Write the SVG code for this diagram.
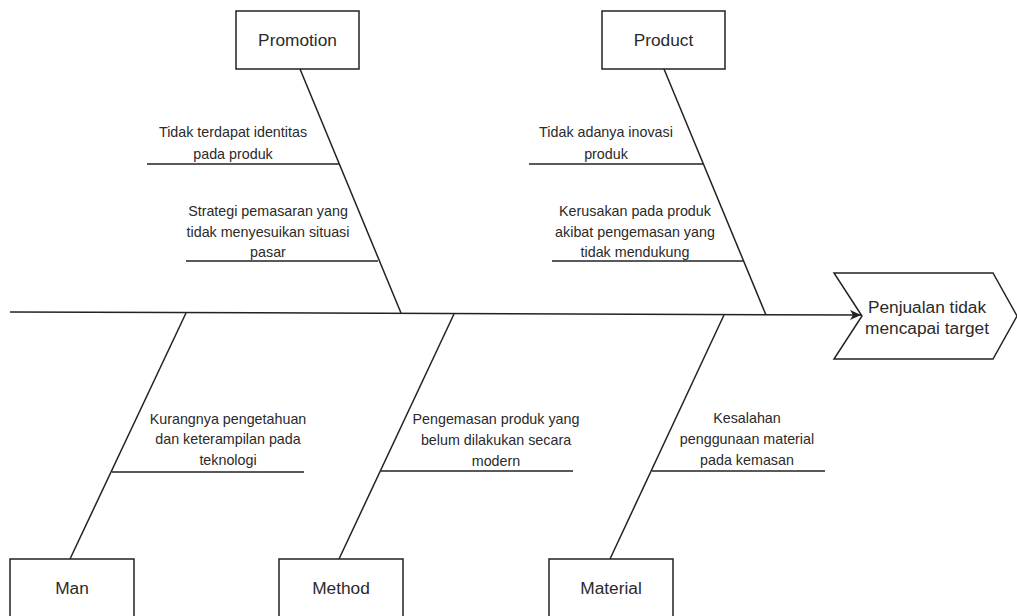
<svg xmlns="http://www.w3.org/2000/svg" width="1017" height="616" viewBox="0 0 1017 616">
<style>
.box{fill:#fff;stroke:#222;stroke-width:1.5}
.ln{fill:none;stroke:#222;stroke-width:1.5}
.t{font-family:"Liberation Sans",Arial,sans-serif;fill:#2a2a2a;text-anchor:middle;dominant-baseline:central}
.big{font-size:17.3px}
.sm{font-size:14.3px}
</style>
<defs>
<marker id="arr" markerUnits="userSpaceOnUse" markerWidth="14" markerHeight="12" refX="11" refY="5" orient="auto">
<path d="M0,0 L11,5 L0,10 L3,5 Z" fill="#222"/>
</marker>
</defs>
<rect width="1017" height="616" fill="#fff"/>
<g id="connectors">
<path class="ln" d="M10,312 L861,315" marker-end="url(#arr)"/>
<path class="ln" d="M300,69 L401,313"/>
<path class="ln" d="M664,69 L766,315"/>
<path class="ln" d="M186,313 L70,559"/>
<path class="ln" d="M454,314 L339,559"/>
<path class="ln" d="M724,315 L610,559"/>
<path class="ln" d="M147,164 L339,164"/>
<path class="ln" d="M186,261 L378,261"/>
<path class="ln" d="M529,164 L703,164"/>
<path class="ln" d="M552,261 L743,261"/>
<path class="ln" d="M112,472 L304,472"/>
<path class="ln" d="M381,471 L573,471"/>
<path class="ln" d="M652,471 L825,471"/>
</g>
<g id="promotion">
<rect class="box" x="236" y="11" width="123" height="58"/>
<text class="t big" x="297.5" y="40">Promotion</text>
</g>
<g id="product">
<rect class="box" x="602" y="11" width="123" height="58"/>
<text class="t big" x="663.5" y="40">Product</text>
</g>
<g id="man">
<rect class="box" x="10" y="559" width="124" height="60"/>
<text class="t big" x="72" y="588">Man</text>
</g>
<g id="method">
<rect class="box" x="279" y="559" width="124" height="60"/>
<text class="t big" x="341" y="588">Method</text>
</g>
<g id="material">
<rect class="box" x="549" y="559" width="124" height="60"/>
<text class="t big" x="611" y="588">Material</text>
</g>
<g id="effect">
<polygon class="box" points="834,273 993,273 1017,316 993,359 834,359 862,316"/>
<text class="t big" x="927" y="307">Penjualan tidak</text>
<text class="t big" x="927" y="328">mencapai target</text>
</g>
<g id="cause-promotion-1">
<text class="t sm" x="233" y="132">Tidak terdapat identitas</text>
<text class="t sm" x="233" y="154">pada produk</text>
</g>
<g id="cause-promotion-2">
<text class="t sm" x="268" y="211">Strategi pemasaran yang</text>
<text class="t sm" x="268" y="232">tidak menyesuikan situasi</text>
<text class="t sm" x="268" y="252">pasar</text>
</g>
<g id="cause-product-1">
<text class="t sm" x="606" y="132">Tidak adanya inovasi</text>
<text class="t sm" x="606" y="154">produk</text>
</g>
<g id="cause-product-2">
<text class="t sm" x="635" y="211">Kerusakan pada produk</text>
<text class="t sm" x="635" y="232">akibat pengemasan yang</text>
<text class="t sm" x="635" y="252">tidak mendukung</text>
</g>
<g id="cause-man-1">
<text class="t sm" x="228" y="419">Kurangnya pengetahuan</text>
<text class="t sm" x="228" y="439">dan keterampilan pada</text>
<text class="t sm" x="228" y="460">teknologi</text>
</g>
<g id="cause-method-1">
<text class="t sm" x="496" y="419">Pengemasan produk yang</text>
<text class="t sm" x="496" y="440">belum dilakukan secara</text>
<text class="t sm" x="496" y="461">modern</text>
</g>
<g id="cause-material-1">
<text class="t sm" x="747" y="418">Kesalahan</text>
<text class="t sm" x="747" y="439">penggunaan material</text>
<text class="t sm" x="747" y="460">pada kemasan</text>
</g>
</svg>
